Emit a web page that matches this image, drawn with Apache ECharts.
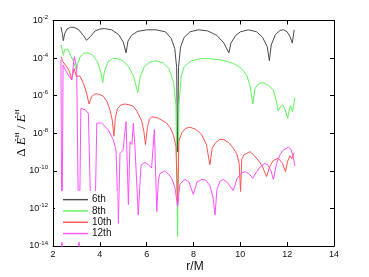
<!DOCTYPE html>
<html><head><meta charset="utf-8">
<script src="https://cdn.jsdelivr.net/npm/echarts@6/dist/echarts.min.js"></script>
<style>html,body{margin:0;padding:0;background:#fff}#c{width:369px;height:277px}</style>
</head><body><div id="c"></div>
<script>
const xTicks = [2, 4, 6, 8, 10, 12, 14];
const yTickExps = [-14, -12, -10, -8, -6, -4, -2];
const seriesNames = ['6th', '8th', '10th', '12th'];

const r6 = [2.34,2.40,2.44,2.50,2.60,2.75,2.90,3.10,3.30,3.43,3.50,3.60,3.80,4.00,4.20,4.50,4.80,5.00,5.12,5.20,5.35,5.60,6.00,6.40,6.80,7.05,7.20,7.28,7.32,7.36,7.45,7.60,7.85,8.20,8.60,9.00,9.30,9.51,9.60,9.80,10.0,10.35,10.7,10.95,11.15,11.24,11.32,11.5,11.7,11.85,12.0,12.12,12.22,12.30];
const v6 = [4.5e-3,2.0e-3,8.5e-4,2.0e-3,3.5e-3,4.4e-3,4.3e-3,3.2e-3,1.6e-3,8.9e-4,8.5e-4,1.4e-3,2.8e-3,3.5e-3,3.7e-3,3.2e-3,1.8e-3,7.1e-4,1.9e-4,7.9e-4,1.6e-3,2.6e-3,3.2e-3,3.2e-3,2.5e-3,1.1e-3,3.2e-4,3.2e-5,1e-9,3.2e-5,4.0e-4,1.26e-3,2.5e-3,3.2e-3,2.8e-3,1.6e-3,6.3e-4,1.9e-4,6.3e-4,1.6e-3,2.5e-3,3.2e-3,2.5e-3,1.26e-3,4.0e-4,7.2e-5,5.0e-4,1.8e-3,3.0e-3,3.2e-3,2.5e-3,1.4e-3,6.3e-4,3.2e-3];

const r8 = [2.34,2.40,2.44,2.50,2.57,2.65,2.75,2.87,2.95,3.00,3.05,3.15,3.30,3.50,3.70,3.90,4.05,4.12,4.20,4.35,4.55,4.75,5.00,5.25,5.45,5.62,5.72,5.90,6.15,6.40,6.70,6.95,7.15,7.25,7.32,7.38,7.47,7.60,7.90,8.30,8.70,9.20,9.70,10.0,10.27,10.42,10.53,10.63,10.80,10.98,11.20,11.41,11.52,11.62,11.70,11.80,11.90,12.02,12.10,12.15,12.23,12.33];
const v8 = [5.0e-4,2.5e-4,1.4e-4,2.8e-4,3.5e-4,2.8e-4,1.4e-4,6.8e-5,3.5e-5,2.3e-5,5.0e-5,1.1e-4,1.8e-4,1.9e-4,1.4e-4,6.3e-5,1.6e-5,4.9e-6,2.0e-5,6.3e-5,9.5e-5,9.5e-5,7.1e-5,3.2e-5,1.0e-5,1.45e-6,1.0e-5,3.5e-5,6.3e-5,7.1e-5,5.6e-5,2.8e-5,5.0e-6,3.2e-7,3.2e-14,3.2e-7,1.0e-5,3.5e-5,7.1e-5,9.3e-5,9.3e-5,7.9e-5,5.2e-5,3.2e-5,1.26e-5,3.2e-6,3.6e-7,2.5e-6,4.5e-6,4.9e-6,3.5e-6,2.0e-6,6.3e-7,1.55e-7,2.5e-7,3.2e-7,2.0e-7,6.3e-8,2.0e-7,2.9e-7,1.4e-7,7.9e-7];

const r10 = [2.34,2.42,2.50,2.60,2.70,2.80,2.90,3.00,3.15,3.29,3.42,3.54,3.65,3.80,3.95,4.15,4.30,4.43,4.53,4.60,4.66,4.75,4.90,5.07,5.25,5.43,5.60,5.79,5.88,5.95,6.03,6.12,6.21,6.35,6.50,6.70,6.85,7.00,7.14,7.25,7.32,7.38,7.50,7.65,7.85,8.10,8.35,8.55,8.70,8.80,8.95,9.13,9.30,9.50,9.70,9.85,9.95,10.01,10.06,10.15,10.41,10.60,10.80,10.95,11.12,11.25,11.40,11.62,11.80,11.93,12.02,12.12,12.20,12.30];
const v10 = [1.2e-4,6.5e-5,7.9e-5,3.2e-5,2.0e-5,7.1e-6,2.8e-5,1.07e-5,1.1e-5,4.8e-6,1.6e-6,3.6e-7,8.9e-7,1.26e-6,1.2e-6,9.3e-7,5.0e-7,1.8e-7,5.0e-8,6.9e-9,6.3e-8,2.0e-7,3.2e-7,3.6e-7,3.3e-7,2.75e-7,1.4e-7,4.4e-8,1.26e-8,2.5e-9,2.0e-8,5.6e-8,7.4e-8,7.1e-8,6.3e-8,4.5e-8,3.5e-8,2.0e-8,8.5e-9,2.0e-9,1.6e-12,4.0e-9,1.05e-8,1.8e-8,2.1e-8,1.6e-8,8.5e-9,2.5e-9,2.1e-10,1.6e-9,3.2e-9,4.8e-9,4.5e-9,3.2e-9,1.6e-9,7.9e-10,2.5e-10,7.9e-12,4.0e-10,7.1e-10,1.05e-9,6.3e-10,3.2e-10,1.6e-10,5.0e-11,1.6e-10,3.5e-10,4.7e-10,2.5e-10,9.1e-11,3.2e-10,6.3e-10,4.5e-10,8.7e-10];

const r12 = [2.34,2.38,2.43,2.47,2.56,2.65,2.80,2.91,2.96,3.01,3.11,3.19,3.37,3.51,3.62,3.71,3.79,3.87,4.08,4.36,4.58,4.69,4.79,4.86,4.99,5.12,5.22,5.29,5.37,5.43,5.50,5.64,5.76,5.93,6.06,6.21,6.33,6.43,6.50,6.57,6.78,6.91,7.07,7.21,7.32,7.42,7.64,7.81,7.99,8.15,8.35,8.53,8.70,8.83,8.92,9.00,9.13,9.27,9.47,9.70,9.86,10.06,10.20,10.37,10.53,10.67,10.84,11.05,11.18,11.31,11.41,11.55,11.69,11.84,12.05,12.16,12.25,12.33];
const v12 = [7.9e-5,1e-15,4.3e-5,4.0e-5,2.0e-5,1.26e-5,6.9e-6,1.2e-4,6.3e-5,3.5e-5,1e-15,2.1e-7,1.8e-7,1.15e-7,3.2e-13,3.2e-12,1e-13,3.5e-8,3.5e-8,1.5e-8,4.4e-9,1.3e-9,1.6e-13,8.5e-10,1.26e-9,4.2e-8,1.6e-12,3.5e-9,2.5e-9,3.4e-8,1.95e-9,4.5e-13,2.0e-10,2.8e-10,2.2e-10,1.4e-10,1.6e-8,6.8e-13,3.2e-11,7.2e-11,1.0e-10,7.1e-11,4.0e-11,1.26e-11,1.26e-12,2.0e-11,3.5e-11,2.5e-11,5.6e-12,2.5e-11,3.5e-11,3.2e-11,1.6e-11,4.0e-12,4.5e-13,1.0e-11,2.8e-11,3.5e-11,2.2e-11,8.9e-12,4.0e-11,7.9e-11,9.1e-11,7.1e-11,4.0e-11,7.9e-11,1.6e-10,2.5e-10,2.0e-10,1.0e-10,3.5e-11,2.5e-10,7.1e-10,1.3e-9,1.8e-9,1.4e-9,6.3e-10,1.8e-10];

const colors = ['#4a4a4a', '#5cf55c', '#ff5252', '#ff4fff'];
const rs = [r6, r8, r10, r12];
const vs = [v6, v8, v10, v12];

const font = 'Liberation Sans, Arial, sans-serif';
const chart = echarts.init(document.getElementById('c'), null, {renderer: 'canvas'});

function yLabel(v) {
  const e = Math.round(Math.log10(v));
  return '{b|10}{s|' + e + '}';
}
const yRich = {
  b: {fontSize: 9, fontFamily: font, color: '#111', lineHeight: 12},
  s: {fontSize: 6, fontFamily: font, color: '#111', verticalAlign: 'top', lineHeight: 7}
};

const yMin = Math.pow(10, yTickExps[0]);
const yMax = Math.pow(10, yTickExps[yTickExps.length - 1]);

chart.setOption({
  animation: false,
  backgroundColor: '#fff',
  grid: {left: 53, right: 35, top: 20.5, bottom: 31, containLabel: false},
  xAxis: [
    {type: 'value', min: xTicks[0], max: xTicks[xTicks.length - 1], interval: 2, position: 'bottom',
     axisLine: {show: true, onZero: false, lineStyle: {color: '#000', width: 1}},
     axisTick: {show: true, inside: true, length: 4, lineStyle: {color: '#000'}},
     axisLabel: {fontSize: 9, fontFamily: font, color: '#111', margin: 4},
     splitLine: {show: false}},
    {type: 'value', min: xTicks[0], max: xTicks[xTicks.length - 1], interval: 2, position: 'top',
     axisLine: {show: true, onZero: false, lineStyle: {color: '#000', width: 1}},
     axisTick: {show: true, inside: true, length: 4, lineStyle: {color: '#000'}},
     axisLabel: {show: false}, splitLine: {show: false}}
  ],
  yAxis: [
    {type: 'log', logBase: 10, min: yMin, max: yMax, interval: 2, position: 'left',
     axisLine: {show: true, onZero: false, lineStyle: {color: '#000', width: 1}},
     axisTick: {show: true, inside: true, length: 4, lineStyle: {color: '#000'}},
     axisLabel: {formatter: yLabel, rich: yRich, margin: 5, interval: 0, showMinLabel: true, showMaxLabel: true},
     splitLine: {show: false}, minorTick: {show: false}},
    {type: 'log', logBase: 10, min: yMin, max: yMax, interval: 2, position: 'right',
     axisLine: {show: true, onZero: false, lineStyle: {color: '#000', width: 1}},
     axisTick: {show: true, inside: true, length: 4, interval: 0, lineStyle: {color: '#000'}},
     axisLabel: {show: false}, splitLine: {show: false}}
  ],
  legend: {
    orient: 'vertical', left: 55, top: 191, z: 20,
    backgroundColor: '#fff', padding: [3, 6, 3, 8],
    icon: 'rect', itemWidth: 25, itemHeight: 1.4, itemGap: 0,
    textStyle: {fontSize: 10, fontFamily: font, color: '#111', lineHeight: 11.3, padding: [0, 0, 0, -1]},
    data: seriesNames
  },
  series: seriesNames.map((n, k) => ({
    name: n, type: 'line', xAxisIndex: 0, yAxisIndex: 0,
    symbol: 'none', clip: true, smooth: false,
    lineStyle: {color: colors[k], width: 1},
    itemStyle: {color: colors[k]},
    data: rs[k].map((x, i) => [x, vs[k][i]]),
    z: 2
  })),
  graphic: [
    {type: 'text', x: 22, y: 133, rotation: Math.PI / 2,
     style: {
       text: '{d|Δ }{e|Ė}{h|H}{d| / }{e|Ė}{h|H}',
       align: 'center', verticalAlign: 'middle',
       rich: {
         d: {fontSize: 13, fontFamily: 'Liberation Serif, serif', fill: '#000', lineHeight: 16},
         e: {fontSize: 13, fontFamily: 'Liberation Serif, serif', fontStyle: 'italic', fill: '#000', lineHeight: 16},
         h: {fontSize: 7, fontFamily: 'Liberation Serif, serif', fill: '#000', verticalAlign: 'top', lineHeight: 8}
       }
     }},
    {type: 'text', x: 195, y: 267,
     style: {text: 'r/M', fontSize: 12, fontFamily: font, fill: '#111', align: 'center', verticalAlign: 'middle'}}
  ]
});
</script></body></html>
